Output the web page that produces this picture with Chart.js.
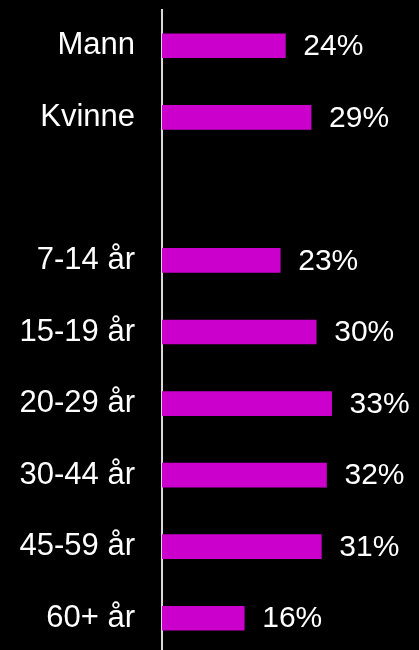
<!DOCTYPE html>
<html lang="no">
<head>
  <meta charset="UTF-8" />
  <title>Andel etter kjønn og alder</title>
  <script src="https://cdn.jsdelivr.net/npm/chart.js"></script>
  <style>
    html, body { margin: 0; padding: 0; background: #000; overflow: hidden; }
    canvas { display: block; }
  </style>
</head>
<body>
  <canvas id="chart" width="419" height="654"></canvas>

  <script>
    // kategorier (tom rad skiller kjønn og alder)
    const categories = ["Mann", "Kvinne", "", "7-14 år", "15-19 år", "20-29 år", "30-44 år", "45-59 år", "60+ år"];
    const shares = [24, 29, null, 23, 30, 33, 32, 31, 16];

    const valueLabels = {
      id: "valueLabels",
      afterDatasetsDraw(chart) {
        const ctx = chart.ctx;
        const meta = chart.getDatasetMeta(0);
        ctx.save();
        ctx.fillStyle = "#ffffff";
        ctx.font = "30px 'Liberation Sans', Arial, sans-serif";
        ctx.textAlign = "left";
        ctx.textBaseline = "middle";
        meta.data.forEach((bar, i) => {
          if (shares[i] == null) return;
          ctx.fillText(shares[i] + "%", bar.x + 18, bar.y + 1);
        });
        ctx.restore();
      }
    };

    new Chart(document.getElementById("chart").getContext("2d"), {
      type: "bar",
      data: {
        labels: categories,
        datasets: [{
          data: shares,
          backgroundColor: "#cc00cc",
          borderWidth: 0,
          barThickness: 24
        }]
      },
      options: {
        indexAxis: "y",
        responsive: false,
        animation: false,
        layout: { padding: { top: 10, right: 0, bottom: 0, left: 0 } },
        scales: {
          x: {
            display: false,
            min: 0,
            max: 50
          },
          y: {
            z: 1,
            grid: { display: false, drawTicks: false },
            border: { display: true, color: "#d9d9d9", width: 2 },
            ticks: {
              color: "#ffffff",
              padding: 27,
              font: { family: "'Liberation Sans', Arial, sans-serif", size: 31 }
            },
            afterFit(axis) {
              axis.width = 162;
              axis.paddingTop = 0;
              axis.paddingBottom = 0;
            }
          }
        },
        plugins: {
          legend: { display: false },
          tooltip: { enabled: false }
        }
      },
      plugins: [valueLabels]
    });
  </script>
</body>
</html>
